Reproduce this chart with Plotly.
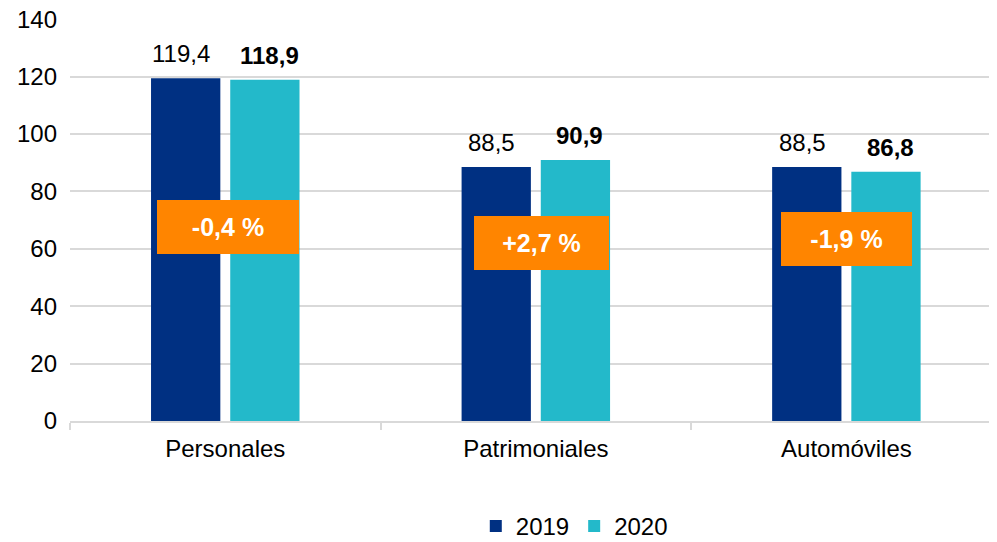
import plotly.graph_objects as go

categories = ["Personales", "Patrimoniales", "Automóviles"]
series_names = ["2019", "2020"]
values_2019 = [119.4, 88.5, 88.5]
values_2020 = [118.9, 90.9, 86.8]
change_labels = ["-0,4 %", "+2,7 %", "-1,9 %"]
y_ticks = [0, 20, 40, 60, 80, 100, 120, 140]

FONT = "Liberation Sans, Arial, sans-serif"
C2019 = "#003082"
C2020 = "#23B9CA"
ORANGE = "#FF8500"
FS = 24

def fmt(v):
    return f"{v:.1f}".replace(".", ",")

fig = go.Figure()
fig.add_trace(go.Bar(name=series_names[0], x=categories, y=values_2019,
                     marker=dict(color=C2019, line=dict(width=0))))
fig.add_trace(go.Bar(name=series_names[1], x=categories, y=values_2020,
                     marker=dict(color=C2020, line=dict(width=0))))

annotations = []
# value labels above bars
for i, cat in enumerate(categories):
    annotations.append(dict(x=i, y=values_2019[i], xref="x", yref="y",
                            text=fmt(values_2019[i]), showarrow=False,
                            xshift=-44, yshift=9, yanchor="bottom",
                            font=dict(family=FONT, size=FS, color="#000000")))
    annotations.append(dict(x=i, y=values_2020[i], xref="x", yref="y",
                            text="<b>" + fmt(values_2020[i]) + "</b>", showarrow=False,
                            xshift=44, yshift=9, yanchor="bottom",
                            font=dict(family=FONT, size=FS, color="#000000")))

# orange change boxes (layout positions)
box_y = [67.6, 62.0, 63.3]
box_xshift = [3, 6, 0]
box_w = [142, 135, 131]
for i, lab in enumerate(change_labels):
    annotations.append(dict(x=i, y=box_y[i], xref="x", yref="y",
                            text="<b>" + lab + "</b>", showarrow=False,
                            xshift=box_xshift[i], width=box_w[i], height=54,
                            bgcolor=ORANGE, borderpad=0, borderwidth=0,
                            align="center", valign="middle",
                            font=dict(family=FONT, size=25, color="#FFFFFF")))

fig.update_layout(
    width=989, height=534,
    margin=dict(l=62, r=0, t=11, b=121, autoexpand=False),
    paper_bgcolor="white", plot_bgcolor="white",
    barmode="group", bargap=0.49, bargroupgap=0.125,
    font=dict(family=FONT, size=FS, color="#000000"),
    showlegend=True,
    legend=dict(orientation="h", x=0.544, xanchor="center", y=-0.262, yanchor="middle",
                font=dict(family=FONT, size=FS, color="#000000"),
                itemwidth=30, tracegroupgap=0, traceorder="normal"),
    annotations=annotations,
)
fig.update_xaxes(type="category", range=[-0.5, 2.485], automargin=False,
                 showline=True, linecolor="#D9D9D9", linewidth=1.5,
                 ticks="outside", tickson="boundaries", ticklen=7, tickcolor="#D9D9D9",
                 tickwidth=1.5, showgrid=False, ticklabelstandoff=5,
                 tickfont=dict(family=FONT, size=FS, color="#000000"))
fig.update_yaxes(range=[0, 140.05], tickvals=y_ticks, ticktext=[str(t) for t in y_ticks],
                 automargin=False, ticklabeloverflow="allow",
                 showgrid=True, gridcolor="#D9D9D9", gridwidth=1.5,
                 zeroline=False, showline=False, ticks="", ticklabelstandoff=12,
                 tickfont=dict(family=FONT, size=FS, color="#000000"))

fig.write_html("out.html")
